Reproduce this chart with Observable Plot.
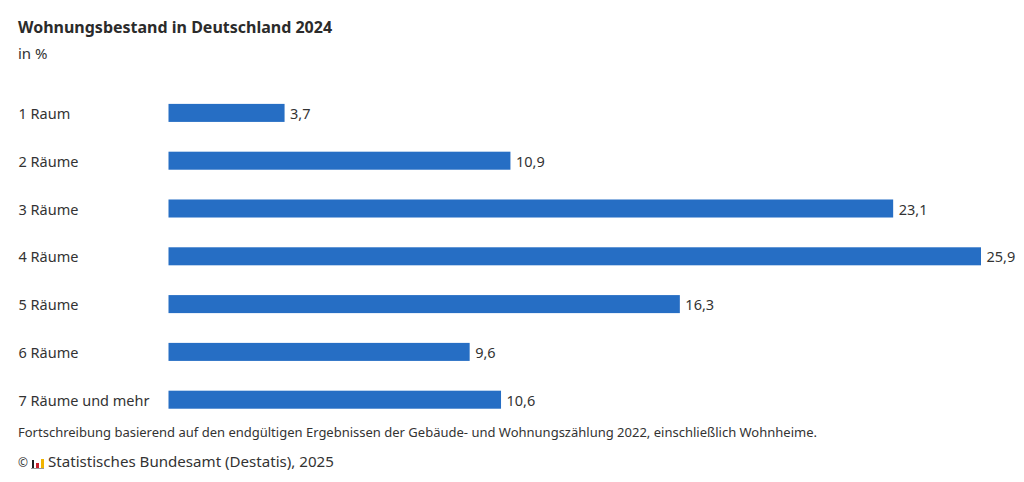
<!DOCTYPE html>
<html lang="de">
<head>
<meta charset="utf-8">
<script src="https://cdn.jsdelivr.net/npm/d3@7"></script>
<script src="https://cdn.jsdelivr.net/npm/@observablehq/plot@0.6"></script>
<style>
  html, body { margin: 0; padding: 0; background: #fff; overflow: hidden; }
  body { width: 1024px; height: 482px; position: relative; font-family: "Noto Sans", sans-serif; color: #333; }
  .t { position: absolute; left: 18px; white-space: nowrap; line-height: 20px; }
  #title { top: 17px; font-size: 16px; font-weight: 700; color: #2b2b2b; }
  #sub { top: 43px; font-size: 15px; }
  #chart { position: absolute; left: 0; top: 80px; }
  #chart svg { display: block; }
  #note { top: 422px; font-size: 13px; }
  #source { top: 451px; font-size: 15.1px; }
  #copy { font-size: 12px; }
  #logo { display: inline-flex; align-items: flex-end; justify-content: space-between; box-sizing: border-box; height: 10px; width: 13px; margin: 0 4px 0 3px; padding: 0 0 0 1px; border-bottom: 1px solid #999; vertical-align: -1px; }
  #logo i { display: block; width: 3px; }
  #logo i:first-child { width: 2px; }
</style>
</head>
<body>
<div class="t" id="title">Wohnungsbestand in Deutschland 2024</div>
<div class="t" id="sub">in %</div>
<div id="chart"></div>
<div class="t" id="note">Fortschreibung basierend auf den endgültigen Ergebnissen der Gebäude- und Wohnungszählung 2022, einschließlich Wohnheime.</div>
<div class="t" id="source"><span id="copy">©</span><span id="logo"><i style="height:8px;background:#222"></i><i style="height:5px;background:#c8202a"></i><i style="height:9px;background:#f0b400"></i></span>Statistisches Bundesamt (Destatis), 2025</div>
<script>
const categories = ["1 Raum", "2 Räume", "3 Räume", "4 Räume", "5 Räume", "6 Räume", "7 Räume und mehr"];
const shares = [3.7, 10.9, 23.1, 25.9, 16.3, 9.6, 10.6];
const rows = categories.map((category, i) => ({category, share: shares[i]}));
const decimalComma = d => d.toFixed(1).replace(".", ",");

const chart = Plot.plot({
  width: 1024,
  height: 345,
  marginLeft: 168.5,
  marginRight: 43,
  marginTop: 9,
  marginBottom: 1.4,
  style: {fontFamily: '"Noto Sans", sans-serif', fontSize: "15px", color: "#333", background: "transparent"},
  x: {domain: [0, 25.9], axis: null},
  y: {domain: categories, paddingInner: 0.623, paddingOuter: 0.3115, round: false, label: null},
  marks: [
    Plot.barX(rows, {x: "share", y: "category", fill: "#266ec4"}),
    Plot.axisY({tickSize: 0, tickPadding: 150.5, textAnchor: "start", label: null, fill: "#333", fontSize: 14.5, dy: 1}),
    Plot.text(rows, {x: "share", y: "category", text: d => decimalComma(d.share), textAnchor: "start", dx: 5, dy: 1, fill: "#333", fontSize: 14.5})
  ]
});
document.getElementById("chart").appendChild(chart);
</script>
</body>
</html>
